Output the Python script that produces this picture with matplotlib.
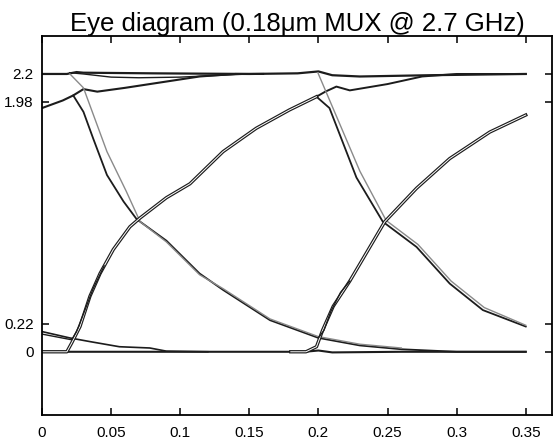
import matplotlib
matplotlib.use("Agg")
import matplotlib.pyplot as plt
import matplotlib.patheffects as pe

plt.rcParams['font.family'] = ['Liberation Sans', 'DejaVu Sans']

# traces (time in ns, voltage in V)
hi_t = [0, 0.018, 0.025, 0.03, 0.08, 0.15, 0.185, 0.2, 0.21, 0.23, 0.28, 0.35]
hi_v = [2.2, 2.2, 2.215, 2.21, 2.205, 2.2, 2.205, 2.22, 2.19, 2.18, 2.19, 2.2]

hi_dip_t = [0.02, 0.03, 0.05, 0.07, 0.1, 0.13, 0.15]
hi_dip_v = [2.21, 2.2, 2.175, 2.17, 2.175, 2.19, 2.2]

settle1_t = [0, 0.015, 0.0226, 0.03, 0.04, 0.06, 0.09, 0.114, 0.14, 0.16]
settle1_v = [1.93, 1.99, 2.03, 2.08, 2.06, 2.09, 2.14, 2.18, 2.2, 2.2]

settle2_t = [0.1986, 0.205, 0.213, 0.2227, 0.25, 0.275, 0.3, 0.35]
settle2_v = [2.02, 2.06, 2.10, 2.07, 2.12, 2.18, 2.2, 2.2]

fall1_t = [0.0226, 0.03, 0.037, 0.047, 0.059, 0.0685, 0.09, 0.114, 0.131, 0.165, 0.2, 0.23, 0.26, 0.3, 0.35]
fall1_v = [2.03, 1.90, 1.69, 1.40, 1.19, 1.05, 0.88, 0.62, 0.49, 0.25, 0.11, 0.05, 0.02, 0.0, 0.0]

fall1g_t = [0.0202, 0.03, 0.047, 0.061, 0.071, 0.09, 0.114, 0.131, 0.165, 0.2, 0.23, 0.26]
fall1g_v = [2.2, 2.09, 1.585, 1.27, 1.03, 0.87, 0.61, 0.5, 0.26, 0.12, 0.06, 0.03]

fall2_t = [0.1986, 0.208, 0.2275, 0.2466, 0.271, 0.295, 0.319, 0.35]
fall2_v = [2.02, 1.93, 1.38, 1.03, 0.83, 0.54, 0.33, 0.20]

fall2g_t = [0.1996, 0.23, 0.249, 0.272, 0.296, 0.32, 0.35]
fall2g_v = [2.21, 1.43, 1.04, 0.85, 0.56, 0.35, 0.21]

rise1_t = [0, 0.018, 0.0215, 0.0275, 0.0347, 0.042, 0.0516, 0.0636, 0.071, 0.09, 0.107, 0.131, 0.155, 0.179, 0.1986]
rise1_v = [0, 0, 0.07, 0.2, 0.44, 0.62, 0.81, 0.99, 1.06, 1.22, 1.33, 1.585, 1.77, 1.915, 2.02]

rise1b_t = [0, 0.0215, 0.025, 0.03, 0.037, 0.045]
rise1b_v = [0.14, 0.095, 0.16, 0.3, 0.5, 0.68]

rise2_t = [0.18, 0.191, 0.1986, 0.203, 0.2107, 0.2227, 0.248, 0.271, 0.295, 0.324, 0.35]
rise2_v = [0, 0, 0.04, 0.17, 0.36, 0.56, 1.03, 1.295, 1.53, 1.74, 1.875]

rise2b_t = [0.2, 0.204, 0.209, 0.216, 0.2227]
rise2b_v = [0.11, 0.17, 0.32, 0.47, 0.56]

lowfall_t = [0, 0.02, 0.035, 0.056, 0.078, 0.09, 0.12]
lowfall_v = [0.16, 0.11, 0.08, 0.04, 0.03, 0.005, 0.0]

low_t = [0, 0.09, 0.19, 0.2, 0.21, 0.26, 0.35]
low_v = [0, 0, 0, 0.01, -0.005, 0, 0.0]

xticks = [0, 0.05, 0.1, 0.15, 0.2, 0.25, 0.3, 0.35]
xlabels = ['0', '0.05', '0.1', '0.15', '0.2', '0.25', '0.3', '0.35']
yticks = [0, 0.22, 1.98, 2.2]
ylabels = ['0', '0.22', '1.98', '2.2']

fig = plt.figure(figsize=(5.54, 4.4), dpi=100)
ax = fig.add_axes([0.0758, 0.057, 0.9206, 0.861])

dark = '#1c1c1c'
hollow = [pe.Stroke(linewidth=2.4, foreground=dark), pe.Stroke(linewidth=0.7, foreground='white')]

ax.plot(hi_t, hi_v, color=dark, lw=1.6)
ax.plot(hi_dip_t, hi_dip_v, color=dark, lw=1.0)
ax.plot(settle1_t, settle1_v, color=dark, lw=1.5)
ax.plot(settle2_t, settle2_v, color=dark, lw=1.4)
ax.plot(low_t, low_v, color=dark, lw=1.5)
ax.plot(lowfall_t, lowfall_v, color=dark, lw=1.2)

ax.plot(fall1_t, fall1_v, color=dark, lw=1.3)
ax.plot(fall1g_t, fall1g_v, color='#8a8a8a', lw=1.0)
ax.plot(fall2_t, fall2_v, color=dark, lw=1.3)
ax.plot(fall2g_t, fall2g_v, color='#8a8a8a', lw=1.0)

ax.plot(rise1_t, rise1_v, color=dark, lw=1.0, path_effects=hollow)
ax.plot(rise1b_t, rise1b_v, color=dark, lw=1.0)
ax.plot(rise2_t, rise2_v, color=dark, lw=1.0, path_effects=hollow)
ax.plot(rise2b_t, rise2b_v, color=dark, lw=1.0)

ax.set_xlim(0, 0.369)
ax.set_ylim(-0.5, 2.5)
ax.set_xticks(xticks)
ax.set_xticklabels(xlabels)
ax.set_yticks(yticks)
ax.set_yticklabels(ylabels)
ax.tick_params(direction='in', top=True, right=True, length=5, width=1.1, labelsize=11, pad=6)
ax.tick_params(axis='x', pad=8)
for s in ax.spines.values():
    s.set_linewidth(1.3)

ax.set_title('Eye diagram (0.18\u03bcm MUX @ 2.7 GHz)', fontsize=18.5, pad=4)

fig.savefig('out.png', dpi=100)
